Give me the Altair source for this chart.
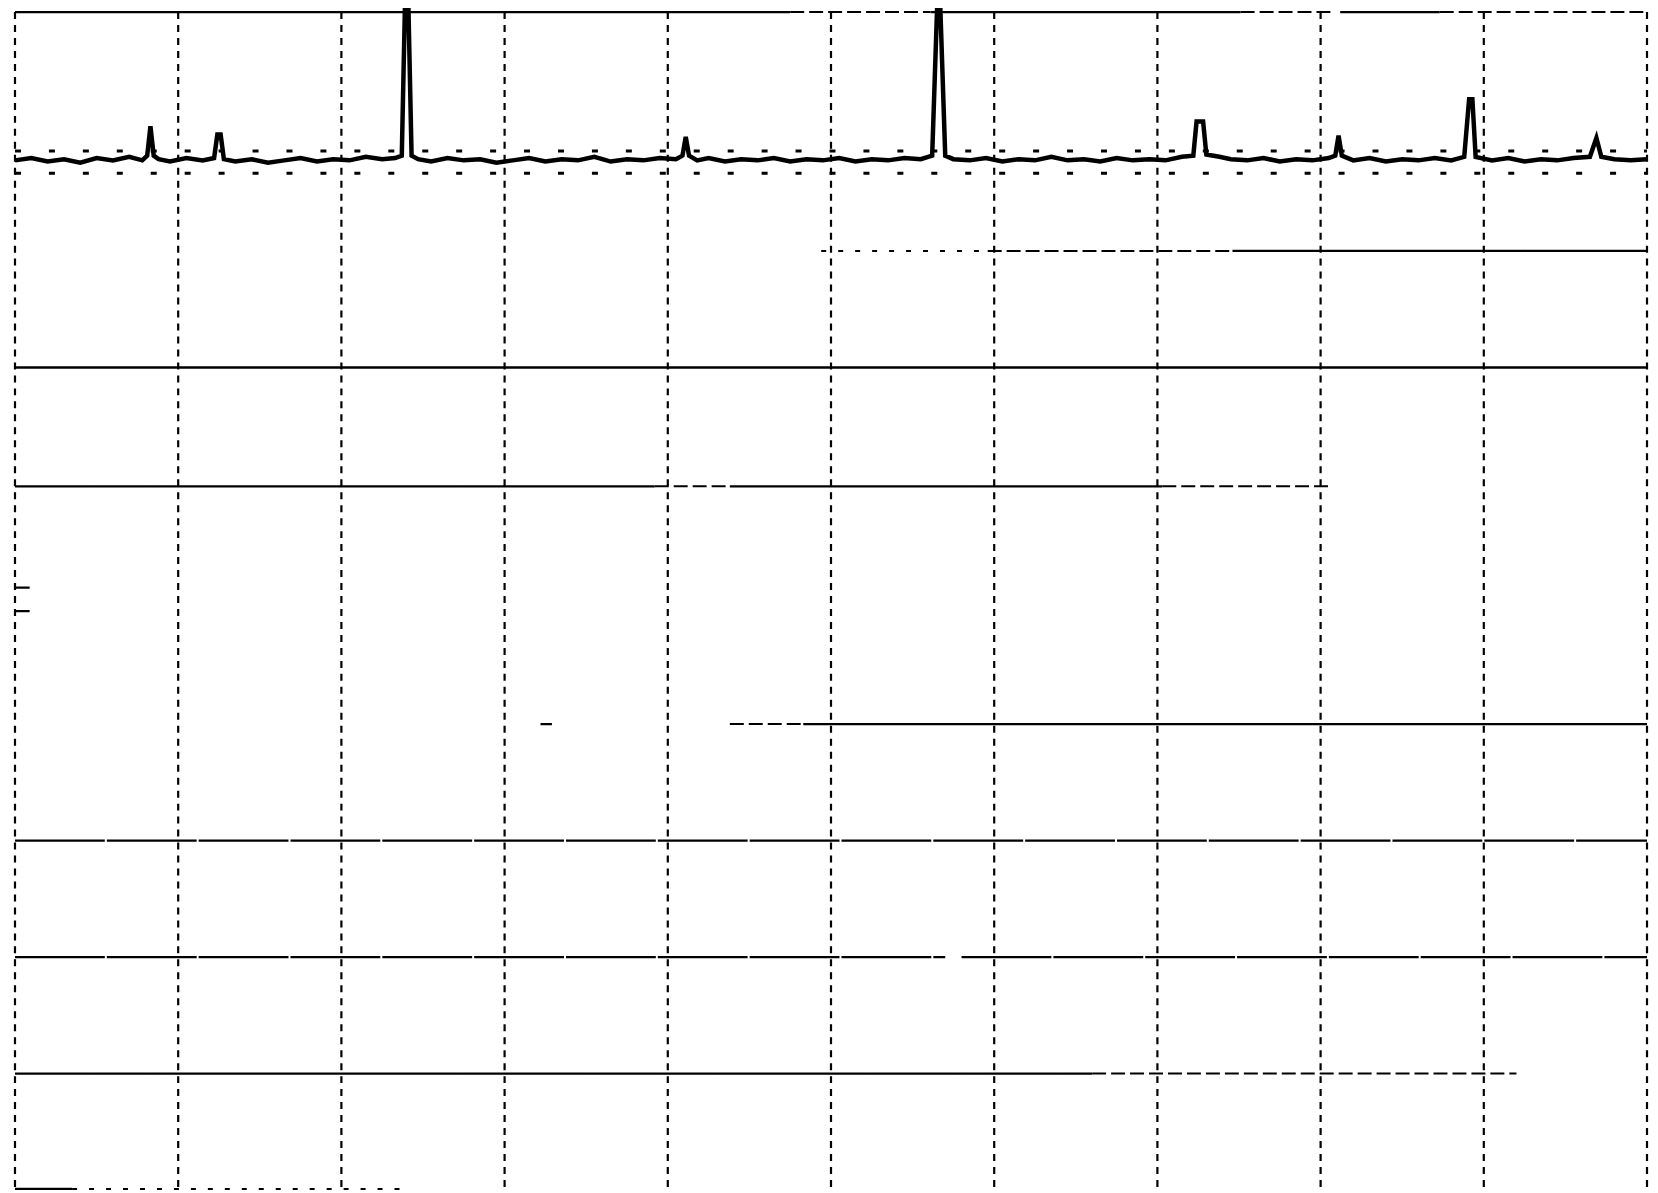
import altair as alt
import pandas as pd

# Grid (in chart divisions): 10 x 10 big squares
vgrid_x = [0, 1, 2, 3, 4, 5, 6, 7, 8, 9, 10]
vgrid_top = [10.0] * 11
vgrid_bot = [-0.05] * 11

# Horizontal grid segments as they survive on the scanned paper (scan is slightly warped)
hseg_y =     [10,   10,   10,   10,   10,   10,   7.97, 7.97, 7.97, 6.98, 5.97, 5.97, 5.97, 5.97, 5.11, 4.91, 3.95, 3.95, 3.95, 2.96, 1.97, 1.97, 0.98, 0.98, 0,    0]
hseg_x1 =    [0,    4.75, 5.61, 7.51, 8.12, 8.73, 4.94, 5.96, 7.46, 0,    0,    3.92, 4.38, 7.03, 0,    0,    3.22, 4.38, 4.83, 0,    0,    5.80, 0,    6.60, 0,    0.35]
hseg_x2 =    [4.75, 5.61, 7.51, 8.06, 8.73, 10,   5.96, 7.46, 10,   10,   3.92, 4.38, 7.03, 8.07, 0.09, 0.09, 3.29, 4.83, 10,   10,   5.70, 10,   6.60, 9.20, 0.35, 2.40]
hseg_style = ["solid", "dashed", "solid", "dashed", "solid", "dashed", "sparse", "dashed", "solid", "solid",
              "solid", "dashed", "solid", "dashed", "solid", "solid", "solid", "dashed", "solid", "broken",
              "broken", "broken", "solid", "dashed", "solid", "sparse"]

# Recorded trace
trace_x = [0.00, 0.10, 0.20, 0.30, 0.40, 0.50, 0.60, 0.70, 0.78, 0.81, 0.83, 0.85, 0.88, 0.95,
           1.05, 1.15, 1.22, 1.24, 1.26, 1.28, 1.35, 1.45, 1.55, 1.65, 1.75, 1.85, 1.95,
           2.05, 2.15, 2.25, 2.33, 2.37, 2.39, 2.41, 2.43, 2.47, 2.55, 2.65, 2.75, 2.85, 2.95,
           3.05, 3.15, 3.25, 3.35, 3.45, 3.55, 3.65, 3.75, 3.85, 3.95,
           4.05, 4.09, 4.11, 4.13, 4.18, 4.25, 4.35, 4.45, 4.55, 4.65, 4.75, 4.85, 4.95,
           5.05, 5.15, 5.25, 5.35, 5.45, 5.55, 5.62, 5.65, 5.67, 5.70, 5.75, 5.85, 5.95,
           6.05, 6.15, 6.25, 6.35, 6.45, 6.55, 6.65, 6.75, 6.85, 6.95,
           7.05, 7.15, 7.22, 7.24, 7.28, 7.30, 7.38, 7.45, 7.55, 7.65, 7.75, 7.85, 7.95,
           8.05, 8.09, 8.11, 8.13, 8.20, 8.30, 8.40, 8.50, 8.60, 8.70, 8.80, 8.88, 8.91, 8.93, 8.95,
           9.05, 9.15, 9.25, 9.35, 9.45, 9.55, 9.65, 9.69, 9.72, 9.80, 9.90, 10.00]
trace_y = [8.74, 8.76, 8.73, 8.75, 8.72, 8.76, 8.74, 8.77, 8.74, 8.78, 9.03, 8.78, 8.75, 8.73,
           8.76, 8.74, 8.76, 8.96, 8.96, 8.75, 8.73, 8.75, 8.72, 8.74, 8.76, 8.73, 8.75,
           8.74, 8.77, 8.75, 8.76, 8.78, 10.09, 10.09, 8.78, 8.75, 8.73, 8.76, 8.74, 8.75, 8.72,
           8.74, 8.76, 8.73, 8.75, 8.74, 8.77, 8.73, 8.75, 8.74, 8.76,
           8.75, 8.78, 8.94, 8.78, 8.74, 8.76, 8.73, 8.75, 8.74, 8.76, 8.73, 8.75, 8.74,
           8.76, 8.73, 8.75, 8.74, 8.76, 8.75, 8.78, 10.03, 10.03, 8.78, 8.75, 8.74, 8.76,
           8.73, 8.75, 8.74, 8.77, 8.74, 8.75, 8.73, 8.76, 8.74, 8.75,
           8.74, 8.77, 8.78, 9.07, 9.07, 8.79, 8.77, 8.75, 8.74, 8.76, 8.73, 8.75, 8.74,
           8.76, 8.78, 8.95, 8.78, 8.74, 8.76, 8.73, 8.75, 8.74, 8.76, 8.74, 8.77, 9.26, 9.26, 8.77,
           8.74, 8.76, 8.73, 8.75, 8.74, 8.76, 8.77, 8.93, 8.77, 8.75, 8.74, 8.75]

# Faint dotted noise rows above and below the trace
noise_y = [8.82, 8.63]
noise_x1 = [0.0, 0.0]
noise_x2 = [10.0, 10.0]

vdf = pd.DataFrame({"x": vgrid_x, "y": vgrid_top, "y2": vgrid_bot})
hdf = pd.DataFrame({"y": hseg_y, "x1": hseg_x1, "x2": hseg_x2, "style": hseg_style})
tdf = pd.DataFrame({"x": trace_x, "y": trace_y})
ndf = pd.DataFrame({"y": noise_y, "x1": noise_x1, "x2": noise_x2})

xs = alt.Scale(domain=[0, 10], nice=False, zero=False)
ys = alt.Scale(domain=[0, 10], nice=False, zero=False)

vrules = alt.Chart(vdf).mark_rule(color="black", strokeWidth=2.2, strokeDash=[7, 6], clip=False).encode(
    x=alt.X("x:Q", scale=xs, axis=None),
    y=alt.Y("y:Q", scale=ys, axis=None),
    y2="y2:Q",
)


def hlayer(style, dash, width=2):
    return alt.Chart(hdf).transform_filter(alt.datum.style == style).mark_rule(
        color="black", strokeWidth=width, strokeDash=dash, clip=False
    ).encode(
        x=alt.X("x1:Q", scale=xs, axis=None),
        x2="x2:Q",
        y=alt.Y("y:Q", scale=ys, axis=None),
    )


h_solid = hlayer("solid", [1, 0], 2.3)
h_broken = hlayer("broken", [90, 2], 2.2)
h_dashed = hlayer("dashed", [14, 5], 2)
h_sparse = hlayer("sparse", [5, 12], 2)

noise = alt.Chart(ndf).mark_rule(color="black", strokeWidth=3, strokeDash=[6, 28], clip=False).encode(
    x=alt.X("x1:Q", scale=xs, axis=None),
    x2="x2:Q",
    y=alt.Y("y:Q", scale=ys, axis=None),
)

trace = alt.Chart(tdf).mark_line(color="black", strokeWidth=4.5, clip=False).encode(
    x=alt.X("x:Q", scale=xs, axis=None),
    y=alt.Y("y:Q", scale=ys, axis=None),
)

chart = alt.layer(vrules, h_solid, h_broken, h_dashed, h_sparse, noise, trace).properties(
    width=1635,
    height=1179,
    padding={"left": 7, "top": 3, "right": 3, "bottom": 3},
    autosize=alt.AutoSizeParams(type="none"),
    background="white",
).configure_view(stroke=None)

chart.save("out.html", embed_options={"renderer": "svg", "actions": False})
